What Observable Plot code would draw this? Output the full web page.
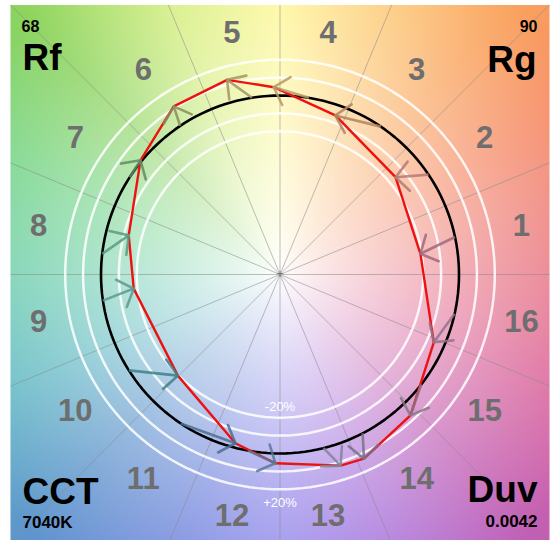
<!DOCTYPE html>
<html><head><meta charset="utf-8">
<script src="https://cdn.jsdelivr.net/npm/d3@7"></script>
<script src="https://cdn.jsdelivr.net/npm/@observablehq/plot@0.6"></script>
<style>body{margin:0;background:#fff}</style>
</head><body><div id="chart"></div>
<script>
// ---- data ----
const bins = [1,2,3,4,5,6,7,8,9,10,11,12,13,14,15,16];
const refHue = [12.1, 33.9, 55.7, 80.7, 99.0, 123.9, 147.1, 173.4, 188.4, 212.4, 236.3, 259.7, 284.1, 297.5, 322.1, 347.3];
const testHue = [8.4, 40.1, 70.8, 91.9, 105.2, 122.3, 140.7, 165.5, 185.5, 224.7, 255.2, 268.6, 287.6, 294.5, 312.8, 336.2];
const testRatio = [0.793, 0.844, 0.941, 1.047, 1.127, 1.111, 1.007, 0.873, 0.821, 0.803, 0.975, 1.055, 1.120, 1.131, 1.073, 0.939];
const gridRatios = [0.8, 0.9, 1.1, 1.2];
const gridLabels = ["-20%", "+20%"];
const metricNames = ["Rf", "Rg", "CCT", "Duv"];
const metricValues = ["68", "90", "7040K", "0.0042"];

// ---- styles ----
const binColors = ["#a0687a","#b47a72","#b4845e","#b89a6a","#a89262","#8c8c5c","#5e8c64","#5a9a82",
                   "#5c9a92","#3e8088","#4a7090","#5a7896","#84849a","#7a7088","#887488","#98728a"];
const hueAnchors = [[0,[232,112,128]],[30,[246,136,98]],[50,[250,165,95]],[70,[253,205,120]],[90,[255,248,150]],
  [112,[212,238,125]],[135,[140,212,95]],[158,[115,212,135]],[180,[105,205,170]],[202,[95,185,195]],
  [225,[95,150,205]],[250,[115,135,222]],[270,[145,135,235]],[292,[170,115,220]],[315,[195,95,180]],
  [340,[220,98,150]],[360,[232,112,128]]];
const FONT = "Liberation Sans, Arial, sans-serif";
const W = 555, H = 540, PX = 179, CX = 279.5, CY = 274, HALF = 1.5056;

const rad = d => d * Math.PI / 180;
function bg(x, y) {
  const r = Math.hypot(x, y);
  let a = Math.atan2(y, x) * 180 / Math.PI; if (a < 0) a += 360;
  let i = 0; while (i < hueAnchors.length - 2 && hueAnchors[i+1][0] < a) i++;
  const [a0, c0] = hueAnchors[i], [a1, c1] = hueAnchors[i+1];
  const f = (a - a0) / (a1 - a0);
  const t = Math.pow(Math.min(1, r / 2), 0.85);
  const c = c0.map((v, k) => 255 + ((v + (c1[k] - v) * f) - 255) * t);
  return `rgb(${c[0]|0},${c[1]|0},${c[2]|0})`;
}

const binRows = bins.map((b, i) => {
  const sx = Math.cos(rad(refHue[i])), sy = Math.sin(rad(refHue[i]));
  const tx = testRatio[i] * Math.cos(rad(testHue[i])), ty = testRatio[i] * Math.sin(rad(testHue[i]));
  const len = Math.hypot(sx - tx, sy - ty) || 1;
  const ux = (sx - tx) / len, uy = (sy - ty) / len; // from tip back to start
  const L = 0.11, A = rad(48);
  const rot = s => [tx + L * (ux * Math.cos(s*A) - uy * Math.sin(s*A)), ty + L * (ux * Math.sin(s*A) + uy * Math.cos(s*A))];
  const [b1x, b1y] = rot(1), [b2x, b2y] = rot(-1);
  return {bin: b, sx, sy, tx, ty, b1x, b1y, b2x, b2y, color: binColors[i]};
});
const barbs = binRows.flatMap(d => [
  {x1: d.tx, y1: d.ty, x2: d.b1x, y2: d.b1y, color: d.color},
  {x1: d.tx, y1: d.ty, x2: d.b2x, y2: d.b2y, color: d.color}]);

const spokes = d3.range(16).map(k => {
  const a = rad(k * 22.5), c = Math.cos(a), s = Math.sin(a);
  const L = HALF / Math.max(Math.abs(c), Math.abs(s));
  return {x2: L * c, y2: L * s};
});
const angles = d3.range(0, 361, 2);
const circ = r => angles.map(a => ({r, x: r * Math.cos(rad(a)), y: r * Math.sin(rad(a))}));
const gridPts = gridRatios.flatMap(circ);
const refPts = circ(1);

const LR = 1.375;
const corner = (txt, anchor, dx, dy, size, ta) => Plot.text([txt], {frameAnchor: anchor, dx, dy, lineAnchor: "top",
  textAnchor: ta, fontSize: size, fontWeight: "bold", fill: "#000", fontFamily: FONT});

const chart = Plot.plot({
  width: W, height: H, margin: 0,
  x: {domain: [-CX / PX, (W - CX) / PX], axis: null},
  y: {domain: [(CY - H) / PX, CY / PX], axis: null},
  color: {type: "identity"},
  style: {fontFamily: FONT, background: "#fff"},
  marks: [
    Plot.raster({x1: -HALF, x2: HALF, y1: -HALF, y2: HALF, fill: bg, pixelSize: 1}),
    Plot.link(spokes, {x1: 0, y1: 0, x2: "x2", y2: "y2", stroke: "#8a8a8a", strokeOpacity: 0.55, strokeWidth: 1}),
    Plot.line(gridPts, {x: "x", y: "y", z: "r", stroke: "#fff", strokeWidth: 2.5, strokeOpacity: 0.85}),
    Plot.line(refPts, {x: "x", y: "y", stroke: "#000", strokeWidth: 2.6}),
    Plot.line(binRows, {x: "tx", y: "ty", curve: "linear-closed", stroke: "#ee1111", strokeWidth: 2.4}),
    Plot.link(binRows, {x1: "sx", y1: "sy", x2: "tx", y2: "ty", stroke: "color", strokeWidth: 2.6, strokeOpacity: 0.85}),
    Plot.link(barbs, {x1: "x1", y1: "y1", x2: "x2", y2: "y2", stroke: "color", strokeWidth: 2.6, strokeOpacity: 0.85, strokeLinecap: "round"}),
    Plot.text(bins, {x: b => LR * Math.cos(rad((b - 0.5) * 22.5)), y: b => LR * Math.sin(rad((b - 0.5) * 22.5)),
      text: d => String(d), fontSize: 31, fontWeight: "bold", fill: "#6e6e6e", fontFamily: FONT}),
    Plot.text([gridLabels[0]], {x: 0, y: -gridRatios[0], dy: -11, text: d => d, fill: "#fff", fontSize: 13, fontFamily: FONT}),
    Plot.text([gridLabels[1]], {x: 0, y: -gridRatios[3], dy: 14, text: d => d, fill: "#fff", fontSize: 13, fontFamily: FONT}),
    Plot.text(["+"], {x: 0, y: 0, text: d => d, fill: "#777", fontSize: 12}),
    corner(metricValues[0], "top-left", 21, 20, 16, "start"),
    corner(metricNames[0], "top-left", 22, 43, 37, "start"),
    corner(metricValues[1], "top-right", -18, 20, 16, "end"),
    corner(metricNames[1], "top-right", -19, 45, 37, "end"),
    corner(metricNames[2], "top-left", 22, 477, 37, "start"),
    corner(metricValues[2], "top-left", 22, 515, 17, "start"),
    corner(metricNames[3], "top-right", -18, 475, 37, "end"),
    corner(metricValues[3], "top-right", -18, 514, 17, "end")
  ]
});
document.getElementById("chart").appendChild(chart);
</script>
</body></html>
